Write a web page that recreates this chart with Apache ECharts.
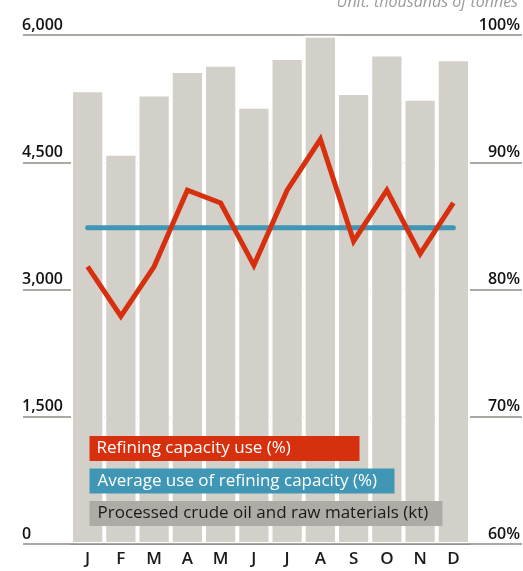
<!DOCTYPE html>
<html>
<head>
<meta charset="utf-8">
<script src="https://cdn.jsdelivr.net/npm/echarts@6/dist/echarts.min.js"></script>
<style>
html,body{margin:0;padding:0;background:#fff;}
#chart{width:523px;height:571px;}
</style>
</head>
<body>
<div id="chart"></div>
<script>
var months = ['J','F','M','A','M','J','J','A','S','O','N','D'];
var processed = [5350, 4600, 5300, 5575, 5650, 5155, 5730, 5990, 5315, 5770, 5250, 5715];
var capacityUse = [81.8, 77.9, 81.8, 87.8, 86.8, 81.9, 87.8, 91.8, 83.8, 87.8, 82.8, 86.8];
var averageUse = [84.85, 84.85, 84.85, 84.85, 84.85, 84.85, 84.85, 84.85, 84.85, 84.85, 84.85, 84.85];
var leftTicks = {min: 0, max: 6000, interval: 1500};
var rightTicks = {min: 60, max: 100, interval: 10};

var FONT = 'Open Sans';
var gridColor = '#8e8d85';
var chart = echarts.init(document.getElementById('chart'));
chart.setOption({
  animation: false,
  textStyle: {fontFamily: FONT},
  title: {
    text: 'Unit: thousands of tonnes',
    right: 0, top: -11,
    textStyle: {fontFamily: FONT, fontStyle: 'italic', fontWeight: 'normal', fontSize: 16, color: '#9b9b9b'}
  },
  grid: {left: 71, right: 52, top: 35, bottom: 27},
  legend: {
    orient: 'vertical', left: 79.5, top: 431,
    icon: 'none', itemWidth: 0, itemHeight: 0, itemGap: 7.5,
    selectedMode: false,
    textStyle: {fontFamily: FONT, fontSize: 17, lineHeight: 19},
    data: [
      {name: 'Refining capacity use (%)', textStyle: {color: '#ffffff', backgroundColor: '#d7300f', padding: [3, 8, 3, 7], width: 255}},
      {name: 'Average use of refining capacity (%)', textStyle: {color: '#ffffff', backgroundColor: '#3f97b5', padding: [3, 8, 3, 8], width: 289}},
      {name: 'Processed crude oil and raw materials (kt)', textStyle: {color: '#1a1a1a', backgroundColor: '#aeaba7', padding: [3, 8, 3, 8], width: 337}}
    ]
  },
  xAxis: {
    type: 'category', data: months, z: 5,
    axisLine: {show: true, lineStyle: {color: gridColor, width: 1.5}},
    axisTick: {show: false},
    axisLabel: {fontFamily: FONT, fontSize: 17, fontWeight: 600, color: '#1a1a1a', margin: 7}
  },
  yAxis: [
    {
      type: 'value', min: leftTicks.min, max: leftTicks.max, interval: leftTicks.interval, position: 'left',
      axisLine: {show: false},
      axisTick: {show: true, length: 48, lineStyle: {color: gridColor, width: 1.5}},
      splitLine: {show: true, lineStyle: {color: gridColor, width: 1.5}},
      axisLabel: {
        fontFamily: FONT, fontSize: 16, fontWeight: 600, color: '#111111',
        align: 'left', verticalAlign: 'bottom', margin: 49, padding: [0, 0, 2, 0],
        formatter: function (v) { return v.toLocaleString('en-US'); }
      }
    },
    {
      type: 'value', min: rightTicks.min, max: rightTicks.max, interval: rightTicks.interval, position: 'right',
      axisLine: {show: false},
      axisTick: {show: true, length: 52, lineStyle: {color: gridColor, width: 1.5}},
      splitLine: {show: false},
      axisLabel: {
        fontFamily: FONT, fontSize: 16, fontWeight: 600, color: '#111111',
        align: 'right', verticalAlign: 'bottom', margin: 50, padding: [0, 0, 2, 0],
        formatter: '{value}%'
      }
    }
  ],
  series: [
    {
      name: 'Processed crude oil and raw materials (kt)', type: 'bar', yAxisIndex: 0,
      data: processed, barCategoryGap: '0%',
      itemStyle: {color: '#d3cfc9', borderColor: '#ffffff', borderWidth: 2}
    },
    {
      name: 'Average use of refining capacity (%)', type: 'line', yAxisIndex: 1,
      data: averageUse, showSymbol: false, symbol: 'none',
      lineStyle: {color: '#3f97b5', width: 5, cap: 'round'},
      itemStyle: {color: '#3f97b5'}
    },
    {
      name: 'Refining capacity use (%)', type: 'line', yAxisIndex: 1,
      data: capacityUse, showSymbol: false, symbol: 'none',
      lineStyle: {color: '#d7300f', width: 5, join: 'miter'},
      itemStyle: {color: '#d7300f'}
    }
  ]
});
</script>
</body>
</html>
